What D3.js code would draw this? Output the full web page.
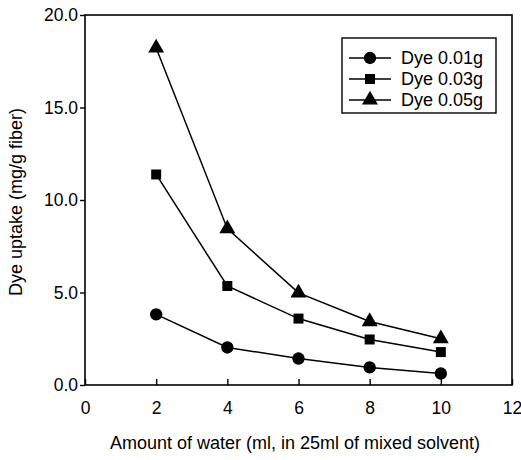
<!DOCTYPE html>
<html>
<head>
<meta charset="utf-8">
<script src="https://cdn.jsdelivr.net/npm/d3@7"></script>
<style>
  body { margin: 0; background: #fff; }
  text { font-family: 'Liberation Sans', Arial, sans-serif; fill: #000; }
</style>
</head>
<body>
<script>
var water = [2, 4, 6, 8, 10];
var dye001 = [3.82, 2.03, 1.43, 0.95, 0.62];
var dye003 = [11.38, 5.35, 3.59, 2.46, 1.78];
var dye005 = [18.22, 8.45, 4.98, 3.43, 2.5];
var seriesNames = ['Dye 0.01g', 'Dye 0.03g', 'Dye 0.05g'];
var xTicks = [0, 2, 4, 6, 8, 10, 12];
var yTicks = [0, 5, 10, 15, 20];

var svg = d3.select('body').append('svg')
    .attr('width', 521)
    .attr('height', 460);

var x = d3.scaleLinear().domain([0, 12]).range([85, 512]);
var y = d3.scaleLinear().domain([0, 20]).range([385, 15]);

// frame
svg.append('rect')
    .attr('x', x(0))
    .attr('y', y(20))
    .attr('width', x(12) - x(0))
    .attr('height', y(0) - y(20))
    .attr('fill', 'none')
    .attr('stroke', '#000')
    .attr('stroke-width', 1.6);

// x axis, ticks point inward
var xAxis = svg.append('g')
    .attr('transform', 'translate(0,' + y(0) + ')')
    .call(d3.axisBottom(x).tickValues(xTicks).tickSizeInner(-6).tickSizeOuter(0).tickPadding(17));
xAxis.select('.domain').remove();
xAxis.selectAll('line').attr('stroke-width', 1.4);
xAxis.selectAll('text').style('font-size', '17.5px');

// y axis, ticks point outward
var yAxis = svg.append('g')
    .attr('transform', 'translate(' + x(0) + ',0)')
    .call(d3.axisLeft(y).tickValues(yTicks).tickSizeInner(5).tickSizeOuter(0).tickPadding(2).tickFormat(d3.format('.1f')));
yAxis.select('.domain').remove();
yAxis.selectAll('line').attr('stroke-width', 1.4);
yAxis.selectAll('text').style('font-size', '17.5px');

svg.append('text')
    .attr('x', 295)
    .attr('y', 449)
    .attr('text-anchor', 'middle')
    .style('font-size', '18px')
    .text('Amount of water (ml, in 25ml of mixed solvent)');

svg.append('text')
    .attr('transform', 'translate(22,202) rotate(-90)')
    .attr('text-anchor', 'middle')
    .style('font-size', '18px')
    .text('Dye uptake (mg/g fiber)');

var series = [dye001, dye003, dye005];
var symbols = [d3.symbolCircle, d3.symbolSquare, d3.symbolTriangle];
var symSizes = [120, 100, 110];

var line = d3.line()
    .x(function (d, i) { return x(water[i]); })
    .y(function (d) { return y(d); });

series.forEach(function (vals, s) {
    svg.append('path')
        .attr('d', line(vals))
        .attr('fill', 'none')
        .attr('stroke', '#000')
        .attr('stroke-width', 1.5);

    svg.selectAll('.pt' + s)
        .data(vals)
        .enter().append('path')
        .attr('class', 'pt' + s)
        .attr('transform', function (d, i) { return 'translate(' + x(water[i]) + ',' + y(d) + ')'; })
        .attr('d', d3.symbol().type(symbols[s]).size(symSizes[s]))
        .attr('fill', '#000');
});

// legend
svg.append('rect')
    .attr('x', 342)
    .attr('y', 38)
    .attr('width', 154)
    .attr('height', 75)
    .attr('fill', '#fff')
    .attr('stroke', '#000')
    .attr('stroke-width', 1.4);

seriesNames.forEach(function (name, s) {
    var ly = 58 + s * 21;
    svg.append('line')
        .attr('x1', 349)
        .attr('x2', 391)
        .attr('y1', ly)
        .attr('y2', ly)
        .attr('stroke', '#000')
        .attr('stroke-width', 1.5);
    svg.append('path')
        .attr('transform', 'translate(370,' + ly + ')')
        .attr('d', d3.symbol().type(symbols[s]).size(symSizes[s]))
        .attr('fill', '#000');
    svg.append('text')
        .attr('x', 401)
        .attr('y', ly + 6)
        .style('font-size', '18px')
        .text(name);
});
</script>
</body>
</html>
